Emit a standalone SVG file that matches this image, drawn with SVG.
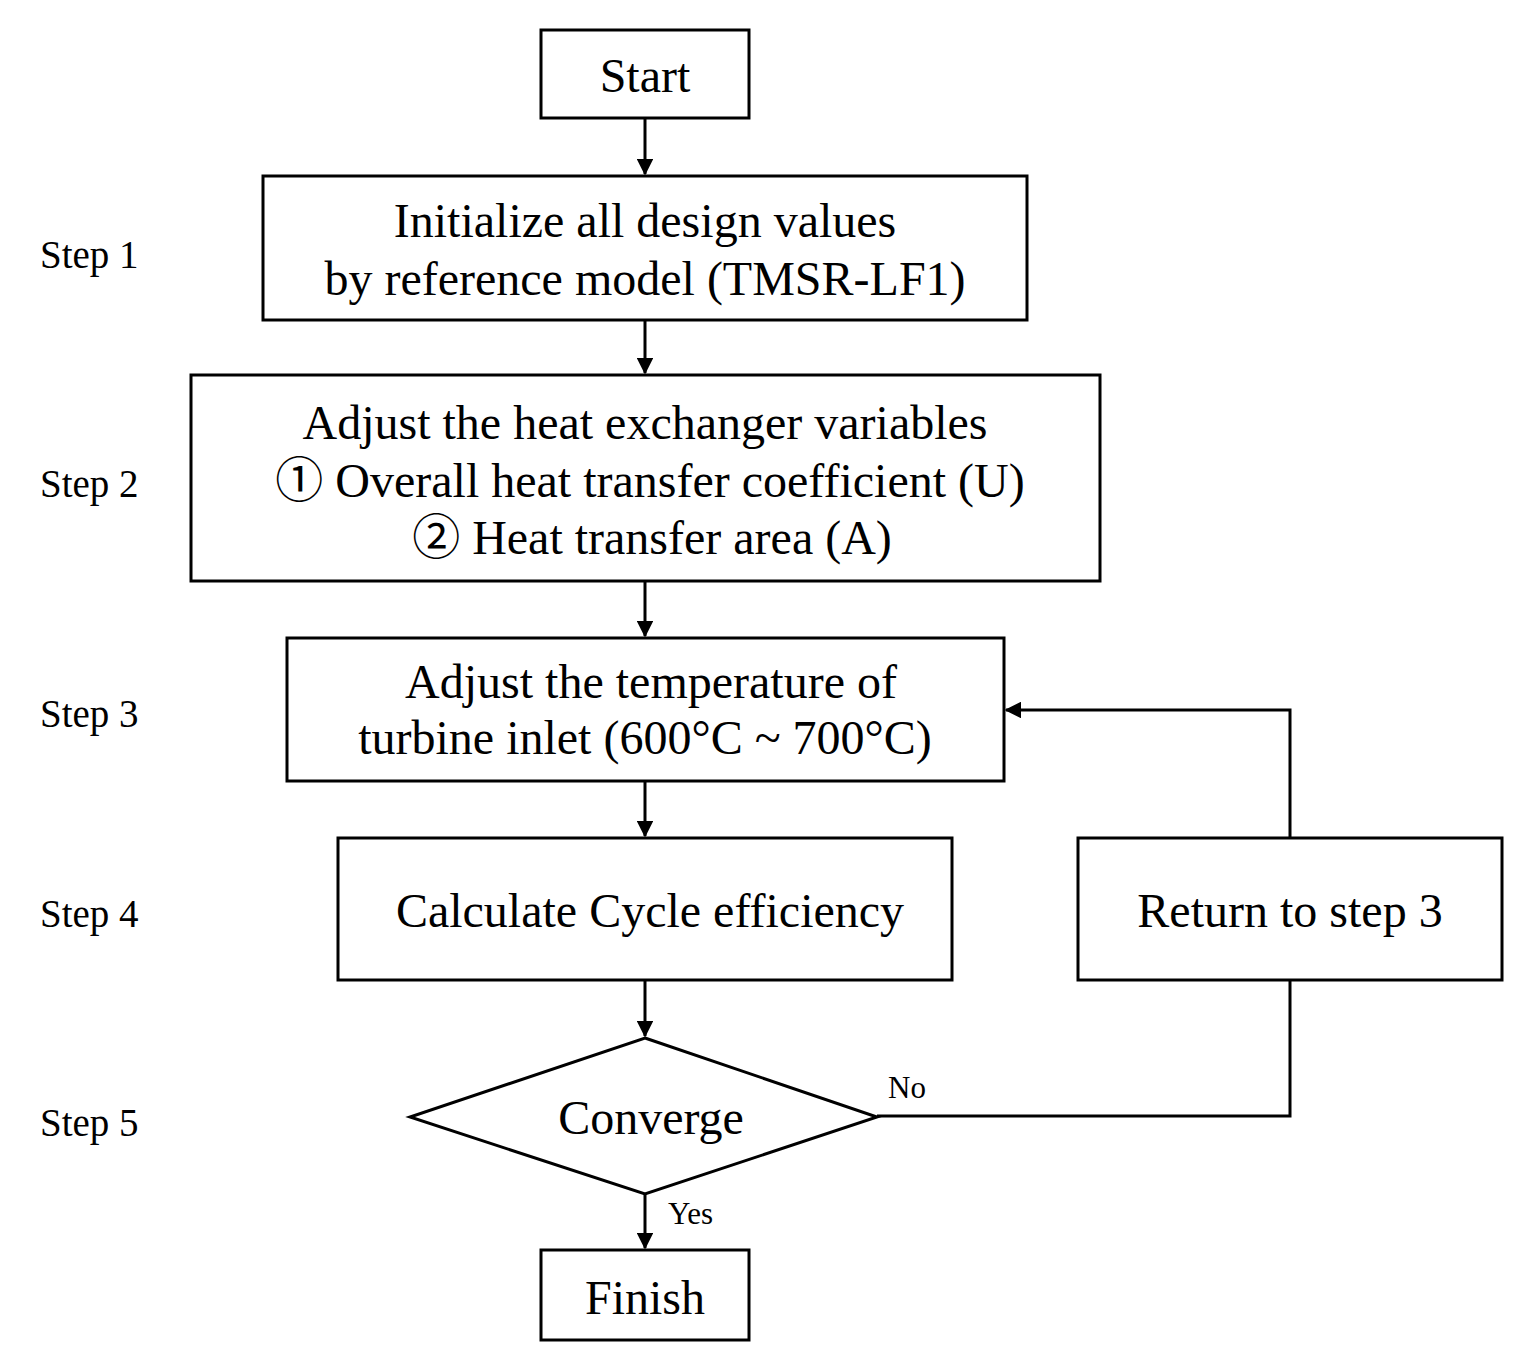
<svg xmlns="http://www.w3.org/2000/svg" width="1523" height="1351" viewBox="0 0 1523 1351">
<style>
.box{fill:#fff;stroke:#000;stroke-width:3}
.t{font-family:"Liberation Serif","Noto Sans CJK KR",serif;font-size:48px;fill:#000;text-anchor:middle}
.s{font-family:"Liberation Serif",serif;font-size:39px;fill:#000}
.l{font-family:"Liberation Serif",serif;font-size:31px;fill:#000}
.c{fill:none;stroke:#000;stroke-width:3}
</style>
<defs>
<marker id="ah" markerWidth="5.5" markerHeight="5.5" refX="5" refY="2.75" orient="auto" markerUnits="strokeWidth">
<path d="M0,0 L5.5,2.75 L0,5.5 z" fill="#000"/>
</marker>
</defs>
<rect width="1523" height="1351" fill="#fff"/>
<g id="steps">
<text class="s" x="40" y="268">Step 1</text>
<text class="s" x="40" y="497">Step 2</text>
<text class="s" x="40" y="727">Step 3</text>
<text class="s" x="40" y="927">Step 4</text>
<text class="s" x="40" y="1136">Step 5</text>
</g>
<g id="connectors">
<line class="c" x1="645" y1="118" x2="645" y2="174" marker-end="url(#ah)"/>
<line class="c" x1="645" y1="320" x2="645" y2="373" marker-end="url(#ah)"/>
<line class="c" x1="645" y1="581" x2="645" y2="636" marker-end="url(#ah)"/>
<line class="c" x1="645" y1="781" x2="645" y2="836" marker-end="url(#ah)"/>
<line class="c" x1="645" y1="980" x2="645" y2="1036" marker-end="url(#ah)"/>
<line class="c" x1="645" y1="1194" x2="645" y2="1248" marker-end="url(#ah)"/>
<polyline class="c" points="877,1116 1290,1116 1290,980"/>
<polyline class="c" points="1290,838 1290,710 1006,710" marker-end="url(#ah)"/>
<text class="l" x="888" y="1098">No</text>
<text class="l" x="668" y="1224">Yes</text>
</g>
<g id="start">
<rect class="box" x="541" y="30" width="208" height="88"/>
<text class="t" x="645" y="92">Start</text>
</g>
<g id="step1">
<rect class="box" x="263" y="176" width="764" height="144"/>
<text class="t" x="645" y="237">Initialize all design values</text>
<text class="t" x="645" y="295">by reference model (TMSR-LF1)</text>
</g>
<g id="step2">
<rect class="box" x="191" y="375" width="909" height="206"/>
<text class="t" x="645" y="439">Adjust the heat exchanger variables</text>
<text class="t" x="650" y="497">① Overall heat transfer coefficient (U)</text>
<text class="t" x="652" y="554">② Heat transfer area (A)</text>
</g>
<g id="step3">
<rect class="box" x="287" y="638" width="717" height="143"/>
<text class="t" x="651" y="698">Adjust the temperature of</text>
<text class="t" x="645" y="754">turbine inlet (600°C ~ 700°C)</text>
</g>
<g id="step4">
<rect class="box" x="338" y="838" width="614" height="142"/>
<text class="t" x="650" y="927">Calculate Cycle efficiency</text>
</g>
<g id="return">
<rect class="box" x="1078" y="838" width="424" height="142"/>
<text class="t" x="1290" y="927">Return to step 3</text>
</g>
<g id="converge">
<polygon class="box" points="645,1038 877,1117 645,1194 410,1117"/>
<text class="t" x="651" y="1134">Converge</text>
</g>
<g id="finish">
<rect class="box" x="541" y="1250" width="208" height="90"/>
<text class="t" x="645" y="1314">Finish</text>
</g>
</svg>
